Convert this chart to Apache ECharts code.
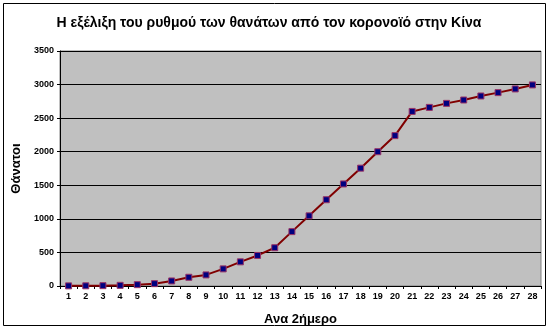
<!DOCTYPE html>
<html><head><meta charset="utf-8">
<script src="https://cdn.jsdelivr.net/npm/echarts@6/dist/echarts.min.js"></script>
<style>html,body{margin:0;padding:0;background:#fff}#c{width:553px;height:331px}</style>
</head><body><div id="c"></div>
<script>
const categories = ['1','2','3','4','5','6','7','8','9','10','11','12','13','14','15','16','17','18','19','20','21','22','23','24','25','26','27','28'];
const deaths = [2,3,5,10,20,35,75,130,165,255,360,455,570,810,1045,1285,1520,1755,2000,2240,2600,2660,2720,2770,2830,2880,2935,2995];
const yTicks = [0,500,1000,1500,2000,2500,3000,3500];
const titleText = 'Η εξέλιξη του ρυθμού των θανάτων από τον κορονοϊό στην Κίνα';
const xName = 'Ανα 2ήμερο';
const yName = 'Θάνατοι';

const chart = echarts.init(document.getElementById('c'), null, {renderer:'canvas'});
const F = 'Arial, "Liberation Sans", sans-serif';
chart.setOption({
  animation:false,
  backgroundColor:'#fff',
  title:{text:titleText,left:264,textAlign:'center',top:11,textStyle:{fontFamily:F,fontSize:14,fontWeight:'bold',color:'#000'}},
  graphic:[
    {type:'rect',shape:{x:3.5,y:3.5,width:542,height:322},style:{fill:null,stroke:'#000',lineWidth:1},z:-1}
  ],
  grid:{left:60,right:12,top:51,bottom:45,show:true,backgroundColor:'#c0c0c0',borderColor:'#808080',borderWidth:1},
  xAxis:{type:'category',data:categories,boundaryGap:true,
    name:xName,nameLocation:'middle',nameGap:27,
    nameTextStyle:{fontFamily:F,fontSize:13,fontWeight:'bold',color:'#000'},
    axisLine:{lineStyle:{color:'#000',width:1}},
    axisTick:{show:true,length:3,lineStyle:{color:'#000'}},
    axisLabel:{fontFamily:F,fontSize:9,fontWeight:'bold',color:'#000',margin:6,interval:0}},
  yAxis:{type:'value',min:yTicks[0],max:yTicks[yTicks.length-1],interval:500,
    name:yName,nameLocation:'middle',nameGap:34,nameRotate:90,
    nameTextStyle:{fontFamily:F,fontSize:13,fontWeight:'bold',color:'#000'},
    axisLine:{show:true,lineStyle:{color:'#000',width:1}},
    axisTick:{show:true,length:3,lineStyle:{color:'#000'}},
    splitLine:{lineStyle:{color:'#000',width:1}},
    axisLabel:{fontFamily:F,fontSize:9,fontWeight:'bold',color:'#000',margin:6,formatter:v=>String(v)}},
  series:[{type:'line',data:deaths,symbol:'rect',symbolSize:6,
    lineStyle:{color:'#800000',width:2},
    itemStyle:{color:'#000080',borderColor:'#993366',borderWidth:1}}]
});
</script></body></html>
